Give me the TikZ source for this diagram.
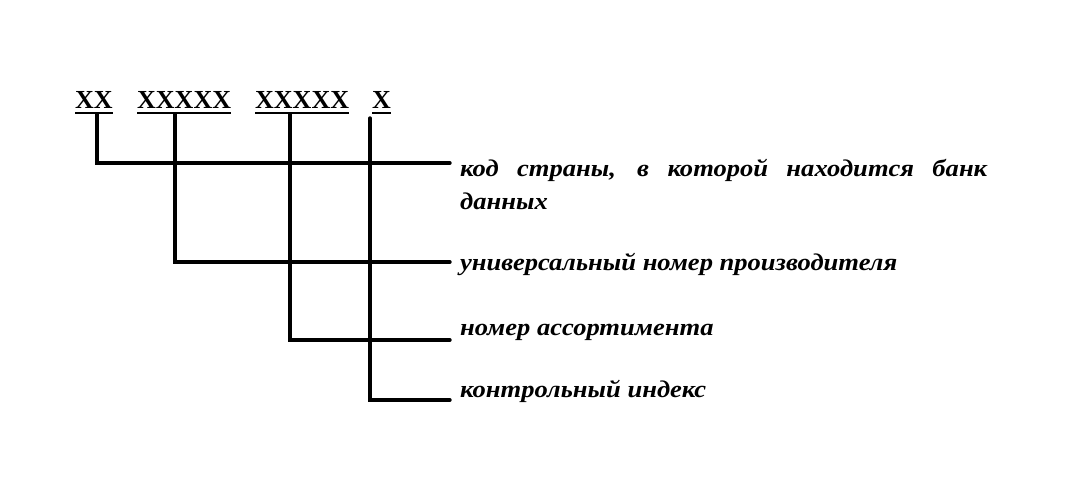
\documentclass[tikz,border=0pt]{standalone}
\usepackage{fontspec}
\setmainfont{Liberation Serif}
\newcommand{\labfont}{\fontsize{24}{33}\selectfont\bfseries\itshape}
\newlength\labw
\newcommand{\labs}{1}
\newcommand{\wone}{527}
\newcommand{\sx}[1]{\scalebox{\labs}[1]{#1}}
\begin{document}
\settowidth\labw{\labfont универсальный номер производителя}%
\pgfmathsetmacro\labs{437/\labw}%
\pgfmathsetmacro\wone{527/\labs}%
\begin{tikzpicture}[x=1pt,y=-1pt,
  code/.style={font=\fontsize{26}{28}\selectfont\bfseries, inner sep=0pt, anchor=base west},
  lab/.style={font=\labfont, inner sep=0pt, anchor=base west, align=left},
  ln/.style={line width=3.4pt, line cap=round}]
\useasboundingbox (0,0) rectangle (1074,481);
% code groups
\node[code] (g1) at (75,109) {XX};
\node[code] (g2) at (137,109) {XXXXX};
\node[code] (g3) at (255,109) {XXXXX};
\node[code] (g4) at (372,109) {X};
\foreach \g in {g1,g2,g3,g4}{\draw[line width=2.6pt] ([yshift=-4pt]\g.south west) -- ([yshift=-4pt]\g.south east);}
% labels
\node[lab] (l1) at (460,210) {\sx{\makebox[\wone pt][s]{код страны, в которой находится банк}}\\\sx{данных}};
\node[lab] (l2) at (460,270) {\sx{универсальный номер производителя}};
\node[lab] (l3) at (460,335) {\sx{номер ассортимента}};
\node[lab] (l4) at (460,397) {\sx{контрольный индекс}};
% free ends
\coordinate (e1) at (450,163);
\coordinate (e2) at (450,262);
\coordinate (e3) at (450,340);
\coordinate (e4) at (450,400);
\coordinate (t1) at (97,114);
\coordinate (t2) at (175,114);
\coordinate (t3) at (290,114);
\coordinate (t4) at (370,118);
\draw[ln] (t1) |- (e1);
\draw[ln] (t2) |- (e2);
\draw[ln] (t3) |- (e3);
\draw[ln] (t4) |- (e4);
\end{tikzpicture}
\end{document}
